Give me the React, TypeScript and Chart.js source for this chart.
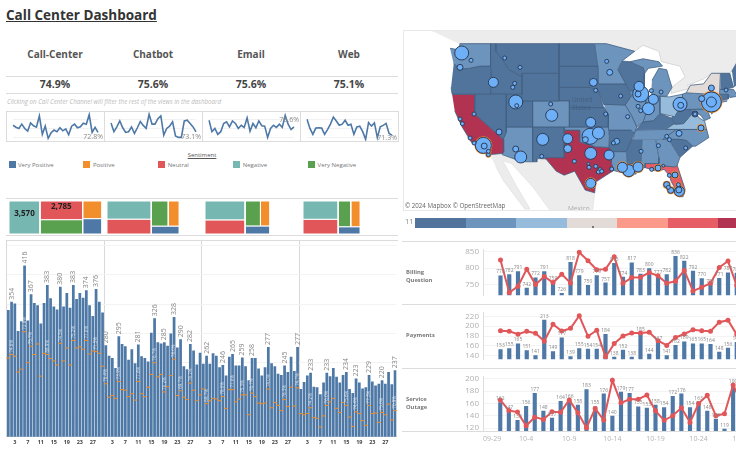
import React, { useEffect, useRef } from "react";
import { Chart, registerables } from "chart.js";
Chart.register(...registerables);

const FONT = '"Open Sans", sans-serif';
Chart.defaults.font.family = FONT;

// ---------- KPI ----------
const channels = ["Call-Center", "Chatbot", "Email", "Web"];
const kpis = ["74.9%", "75.6%", "75.6%", "75.1%"];
const sparkEnd = ["72.8%", "73.1%", "79.6%", "71.3%"];
const sparkCC = [76.8,75.7,75,77.4,75,73.5,78.1,76.5,75.7,82,71.7,76.3,69.5,72.6,74.1,73.2,75.4,73.7,74.8,71.5,76.3,77.4,75.4,75.9,77.9,77.4,82.7,72.8,75.6,72.8];
const sparkBot = [78.1,73.2,75.9,79.2,75.4,72.8,73.2,75.9,72.2,75.4,78.9,76.7,75,82.9,77.4,77.4,80.5,82,71.3,75,76.3,78.7,70.8,70,70,79.2,79.6,77.8,75.9,73.1];
const sparkEmail = [79.6,73.2,75,71.7,73.2,77.8,78.7,75.9,79.2,77.8,75,76.8,75.6,80.9,73.5,77.8,75.4,79.2,76.5,76.3,70,75,76.8,75.6,77.4,75.6,82.3,77.4,74.4,75.9];
const sparkWeb = [80.1,75,71.7,75.2,75.4,75.2,71.7,74.4,77.4,81.4,79.2,76.8,77.4,79.6,76.8,77.4,71.7,75.9,76.3,73.2,68.9,78.3,76.3,78.1,69.9,75.9,76.7,77.8,72.2,71.3];

// ---------- Sentiment ----------
const sentiments = ["Very Positive", "Positive", "Neutral", "Negative", "Very Negative"];
const sentimentColors = ["#4e79a7", "#f28e2b", "#e15759", "#76b7b2", "#59a14f"];
const tmVeryPositive = [1040, 780, 705, 565];
const tmPositive = [1190, 970, 830, 860];
const tmNeutral = [2785, 2300, 1980, 1810];
const tmNegative = [3570, 2800, 2640, 2240];
const tmVeryNegative = [2140, 1490, 1340, 1135];

// ---------- Daily bars (4 channels x 30 days) ----------
const days = Array.from({ length: 30 }, (_, i) => i + 1);
const totalsCC = [340,354,351,304,321,416,322,367,352,348,317,352,383,360,346,341,380,346,369,344,383,359,369,361,374,348,330,376,354,336];
const totalsBot = [280,262,258,241,295,282,278,255,273,249,281,261,258,252,301,326,285,283,285,279,300,328,276,290,244,239,282,271,247,267];
const totalsEmail = [248,262,248,266,262,242,246,228,260,265,245,245,259,244,220,258,258,240,228,242,277,249,244,231,229,245,234,260,236,277];
const totalsWeb = [205,217,228,233,209,208,196,216,233,227,241,226,216,229,234,205,198,223,216,206,208,229,218,211,214,220,214,234,213,237];
const satisfiedCC = [258,264,261,234,239,303,250,278,264,282,227,266,264,257,253,246,283,253,275,246,288,275,277,273,288,265,270,269,266,244];
const satisfiedBot = [214,191,194,189,218,204,203,192,197,186,218,197,192,208,230,250,226,230,200,209,228,256,194,202,191,187,215,203,185,195];
const satisfiedEmail = [205,180,185,189,188,185,192,172,204,204,183,188,195,195,161,198,192,181,180,181,205,173,182,177,168,187,175,208,176,207];
const satisfiedWeb = [163,161,163,173,156,155,140,159,177,183,189,172,165,182,177,157,141,166,163,151,143,177,163,164,148,165,161,179,152,168];
const labelledDaysCC = [2,6,8,13,17,21,25,28];
const labelledDaysBot = [1,5,11,16,19,22,24,27];
const labelledDaysEmail = [2,7,10,13,16,21,26,30];
const labelledDaysWeb = [4,9,15,18,22,26,30];

// ---------- Topic rows ----------
const dates = ["09-29","09-30","10-1","10-2","10-3","10-4","10-5","10-6","10-7","10-8","10-9","10-10","10-11","10-12","10-13","10-14","10-15","10-16","10-17","10-18","10-19","10-20","10-21","10-22","10-23","10-24","10-25","10-26","10-27","10-28","10-29","10-30","10-31"];
const billingBars = [null,null,778,782,791,742,772,791,759,726,818,779,750,779,757,815,774,817,783,800,777,782,836,822,792,770,751,771,787,786,762,760];
const billingLine = [null,null,824,727,746,797,751,775,757,782,756,847,822,795,797,834,755,772,773,787,777,755,761,793,732,743,755,802,821,748,732,730];
const paymentBars = [null,null,153,155,165,151,141,213,149,177,139,155,154,154,184,138,152,138,185,144,167,141,162,169,165,165,164,148,156,168,155,150];
const paymentLine = [null,null,190.6,189.6,183.7,189.6,185.7,169.5,203.8,190,195.5,221,179.3,191.6,137.6,164.6,180,186,186,187.6,170.5,161,177,184,192.5,190.6,189.6,208,212,183,187.6,179];
const outageBars = [null,null,162,147,133,156,177,148,137,164,166,158,183,155,176,140,179,177,155,153,158,154,172,176,154,163,148,135,119,190,136,140];
const outageLine = [null,null,165.8,148.5,146,123.7,137.8,134,146.6,145.7,165.8,144.8,120.5,151.8,133,197.6,161,166.7,167,173.7,148,132.6,140,153,129.3,160,173.3,140,143.4,190,161,147];

// ---------- Map ----------
const mapRamp = ["#50749c", "#6c94bc", "#97bbdb", "#e3dbd7", "#fb9a8a", "#e75d66", "#b23252"];
type Ring = number[][];
const canada: Ring = [[-123,49],[-95,49],[-89.6,48],[-88,48.8],[-85,48],[-84.5,46.6],[-81,46],[-80,44.5],[-81.7,43.5],[-82.5,43],[-82.7,42.1],[-79,42.9],[-79.6,43.3],[-76.5,44.2],[-75,45],[-71.5,45],[-70,46.7],[-69,47.4],[-67.8,47],[-60,47],[-60,60],[-128,60],[-128,50.6]];
const mexico: Ring = [[-117.1,32.5],[-114.7,32.7],[-111,31.3],[-108.2,31.3],[-106.5,31.8],[-104.5,29.7],[-103,29],[-101,29.7],[-99,26.4],[-97.2,25.9],[-97.7,22],[-90,20],[-105,20],[-105.5,22.5],[-109,27],[-113,31],[-114.7,31.5],[-112,27],[-109.5,23],[-110.5,23],[-114.5,28],[-116,30.5]];
const states: [string, number, Ring][] = [
  ["WA",1,[[-124.7,48.4],[-123,48.2],[-122.8,49],[-117,49],[-117,46],[-119,46],[-121,45.7],[-122.5,45.6],[-124,46.3]]],
  ["OR",0,[[-124,46.3],[-122.5,45.6],[-121,45.7],[-119,46],[-117,46],[-116.9,45],[-117,42],[-124.3,42],[-124.5,43]]],
  ["CA",6,[[-124.3,42],[-120,42],[-120,39],[-114.6,35],[-114.5,33],[-114.7,32.7],[-117.1,32.5],[-118.5,34],[-120.6,34.5],[-122.4,37],[-123.8,39.5]]],
  ["NV",0,[[-120,42],[-114,42],[-114,36.2],[-114.6,35],[-120,39]]],
  ["ID",0,[[-117,49],[-116,49],[-116,48],[-114.5,46.6],[-113.5,45.5],[-111,44.5],[-111,42],[-117,42],[-116.9,45],[-117,46]]],
  ["MT",0,[[-116,49],[-104,49],[-104,45],[-111,45],[-111,44.5],[-113.5,45.5],[-114.5,46.6],[-116,48]]],
  ["WY",0,[[-111,45],[-104,45],[-104,41],[-111,41]]],
  ["UT",0,[[-114,42],[-111,42],[-111,41],[-109,41],[-109,37],[-114,37]]],
  ["CO",1,[[-109,41],[-102,41],[-102,37],[-109,37]]],
  ["AZ",1,[[-114,37],[-109,37],[-109,31.3],[-111,31.3],[-114.8,32.5],[-114.5,33],[-114.6,35],[-114,36.2]]],
  ["NM",0,[[-109,37],[-103,37],[-103,32],[-106.6,32],[-106.5,31.8],[-108.2,31.8],[-108.2,31.3],[-109,31.3]]],
  ["ND",0,[[-104,49],[-97.2,49],[-96.6,46],[-104,46]]],
  ["SD",0,[[-104,46],[-96.6,46],[-96.5,42.5],[-98,43],[-104,43]]],
  ["NE",0,[[-104,43],[-98,43],[-96.5,42.5],[-95.5,40],[-102,40],[-102,41],[-104,41]]],
  ["KS",0,[[-102,40],[-95.3,40],[-94.6,39],[-94.6,37],[-102,37]]],
  ["OK",1,[[-103,37],[-94.6,37],[-94.4,35.4],[-94.5,33.7],[-97,33.8],[-100,34.6],[-100,36.5],[-103,36.5]]],
  ["TX",6,[[-103,36.5],[-100,36.5],[-100,34.6],[-97,33.8],[-94.5,33.7],[-94,33],[-94,31],[-93.6,29.8],[-95,29],[-97,27.8],[-97.2,25.9],[-99,26.4],[-101,29.7],[-103,29],[-104.5,29.7],[-106.5,31.8],[-106.6,32],[-103,32]]],
  ["MN",1,[[-97.2,49],[-95,49],[-89.6,48],[-92,46.7],[-92.8,45.5],[-91.3,43.5],[-96.5,43.5],[-96.6,46]]],
  ["IA",0,[[-96.5,43.5],[-91.3,43.5],[-90.2,41.8],[-91.4,40.4],[-95.5,40.5],[-96.5,42.5]]],
  ["MO",1,[[-95.5,40.5],[-91.4,40.4],[-90.2,38.8],[-89.2,37],[-89.7,36],[-90.3,36.5],[-94.6,36.5],[-94.6,39]]],
  ["AR",0,[[-94.6,36.5],[-90.3,36.5],[-89.7,36],[-91.2,33],[-94,33],[-94.5,33.7],[-94.4,35.4]]],
  ["LA",1,[[-94,33],[-91.2,33],[-91,31],[-89.7,31],[-89.3,29.2],[-91,29.2],[-93.6,29.8],[-94,31]]],
  ["WI",0,[[-92,46.7],[-90.5,46.6],[-88,45.8],[-87.7,45],[-87.8,42.5],[-90.6,42.5],[-91.3,43.5],[-92.8,45.5]]],
  ["IL",1,[[-90.6,42.5],[-87.8,42.5],[-87.5,41.7],[-87.5,39],[-88,37.8],[-89.2,37],[-90.2,38.8],[-91.4,40.4],[-90.2,41.8]]],
  ["IN",1,[[-87.5,41.7],[-84.8,41.7],[-84.8,39.1],[-86,38],[-88,37.8],[-87.5,39]]],
  ["OH",2,[[-84.8,41.7],[-83,41.6],[-80.5,42],[-80.5,40.6],[-82,38.6],[-84.8,39.1]]],
  ["MI",1,[[-86.5,41.7],[-83.5,41.7],[-82.5,43],[-82.9,44],[-83.5,45.5],[-85,45.7],[-86.3,44]]],
  ["MIU",1,[[-90.5,46.6],[-88,47],[-85,46.6],[-84.3,46],[-87,45.7],[-87.7,45],[-88,45.8]]],
  ["KY",0,[[-89.4,36.5],[-88,37.8],[-86,38],[-84.8,39.1],[-82.6,38.4],[-82,37.5],[-83.7,36.6]]],
  ["TN",1,[[-90,35],[-89.4,36.5],[-83.7,36.6],[-81.7,36.6],[-84.3,35]]],
  ["MS",0,[[-91.2,33],[-90.2,35],[-88.2,35],[-88.4,30.3],[-89.7,30.2],[-89.7,31],[-91,31]]],
  ["AL",1,[[-88.2,35],[-85.6,35],[-85,32],[-85,31],[-87.6,31],[-87.6,30.3],[-88.4,30.3]]],
  ["GA",1,[[-85.6,35],[-83.1,35],[-81,32],[-81.5,30.7],[-82,30.4],[-84.9,30.7],[-85,31],[-85,32]]],
  ["FL",5,[[-87.6,31],[-85,31],[-84.9,30.7],[-82,30.5],[-81.5,30.7],[-80,26.5],[-80.4,25.2],[-81.1,25.2],[-82.7,28],[-83,29],[-84,30],[-85.3,29.7],[-87.6,30.3]]],
  ["SC",0,[[-83.1,35],[-81,35],[-79.7,34.8],[-78.6,33.9],[-81,32]]],
  ["NC",1,[[-84.3,35],[-81.7,36.6],[-75.9,36.6],[-75.5,35.3],[-78,33.9],[-78.6,33.9],[-79.7,34.8],[-81,35],[-83.1,35]]],
  ["VA",2,[[-83.7,36.6],[-75.9,36.6],[-76.3,37.9],[-77.3,38.4],[-78.3,39.4],[-80.3,37.5],[-82,37.4]]],
  ["WV",0,[[-82.6,38.4],[-80.5,40.6],[-80.5,39.7],[-79.5,39.7],[-78.3,39.4],[-80.3,37.5],[-82,37.4]]],
  ["MD",1,[[-79.5,39.7],[-75.8,39.7],[-75.2,38.4],[-76.3,38],[-77,38.8],[-78.3,39.4]]],
  ["PA",1,[[-80.5,42],[-79.8,42.2],[-75.3,42],[-74.7,41.3],[-75.3,39.8],[-80.5,39.7]]],
  ["NY",3,[[-79.8,42.2],[-79,43.3],[-76.5,43.5],[-75,45],[-73.3,45],[-73.5,41.2],[-74,40.6],[-72,41],[-74,41],[-74.7,41.3],[-75.3,42]]],
  ["NJ",0,[[-75.3,39.8],[-74.7,41.3],[-74,41],[-74.2,39.6],[-75,39]]],
  ["VTNH",0,[[-73.3,45],[-71.5,45],[-70.8,43],[-72.5,42.7],[-73.3,42.7]]],
  ["MA",1,[[-73.4,42.7],[-70.8,42.7],[-70,41.7],[-71.5,41.5],[-71.8,42],[-73.5,42]]],
  ["CT",0,[[-73.5,42],[-71.8,42],[-71.8,41.3],[-73.6,41]]],
  ["ME",0,[[-71.1,45.3],[-70,46.7],[-69,47.4],[-67.8,47],[-67,45],[-70.7,43.1]]],
];
// longitude, mercator-latitude, call volume
const siteLon = [-122.48,-120.7,-122.8,-116.46,-112.4,-112.78,-112.2,-112.02,-114.3,-111.39,-105.37,-105.56,-107.08,-111.26,-112.21,-107.27,-118.36,-118.2,-117.41,-117.41,-120.89,-120.13,-122.79,-122.35,-120.13,-115.38,-102.32,-102.32,-97.95,-101.06,-98.4,-98.27,-97,-96.18,-96.5,-95.86,-97.95,-94.47,-98.08,-96.49,-97.95,-98.97,-93.64,-93.01,-97.44,-97,-94.91,-94.34,-92.25,-95.1,-90.92,-88.45,-88.95,-88.76,-86.04,-86.99,-88.95,-88.45,-86.42,-84.58,-80.97,-80.84,-75.01,-75.01,-76.85,-75.01,-72.22,-78.12,-78.12,-76.98,-81.16,-83.5,-83,-85.09,-79.89,-88.38,-90.73,-91.93,-88.95,-93.96,-86.36,-85.15,-84.14,-83,-81.92,-81.29,-83.5,-83.19,-82.74,-81.09,-81.2];
const siteMerc = [54.52,53.07,51.68,48.71,48.51,47.72,44.82,44.09,53.53,51.68,42.18,44.42,37.42,33.93,35.51,34.06,36.23,36.1,34.39,35.05,37.69,36.7,41.45,40.53,42.44,38.88,37.56,35.58,34.65,33.07,32.6,31.88,32.08,31.42,30.96,31.09,28.71,34.32,38.02,38.68,40.79,37.36,36.7,37.03,48.71,47.13,52.87,50.69,46,42.44,41.91,46.4,46.4,47.92,45.35,43.5,43.96,43.1,47.06,46.8,44.36,44.16,44.82,44.82,45.48,47.59,47.19,42.44,42.44,39.67,38.61,38.02,37.36,36.17,35.71,35.05,31.22,31.88,31.95,31.55,31.48,31.75,32.2,30.3,30.36,28.45,28.45,27.92,27.33,27.13,27.4];
const siteVolume = [49,4,9,25,4,4,49,4,4,4,36,4,36,36,9,4,64,9,4,4,4,4,4,4,4,9,25,16,36,4,2,4,4,4,4,4,25,25,64,36,25,9,4,9,16,4,4,9,4,4,4,64,9,25,25,36,4,4,4,4,49,9,100,25,9,9,4,9,4,9,9,4,4,4,4,4,36,25,25,4,4,9,2,4,9,4,9,4,9,25,9];
// sites whose ring shows an orange edge in the picture
const haloSites = [16,18,19,36,62,69,76,77,78,81,84,85,86,87,88,89];

const merc = (lat: number) => (Math.log(Math.tan(Math.PI / 4 + (lat * Math.PI) / 360)) * 180) / Math.PI;
const ring = (r: Ring) => r.map(([lon, lat]) => ({ x: lon, y: merc(lat) }));

const base = (extra: any = {}) => ({
  responsive: false,
  animation: false,
  events: [],
  layout: { autoPadding: false },
  plugins: { legend: { display: false }, tooltip: { enabled: false } },
  ...extra,
});

function ChartBox({ left, top, width, height, make }: any) {
  const ref = useRef<HTMLCanvasElement>(null);
  useEffect(() => {
    const c = new Chart(ref.current as any, make());
    return () => c.destroy();
  }, []);
  return <canvas ref={ref} width={width} height={height} style={{ position: "absolute", left, top, width, height, display: "block" }} />;
}

const sparkCfg = (values: number[], label: string, dy: number) => () => ({
  type: "line",
  data: { labels: days, datasets: [{ data: values, borderColor: "#4e79a7", borderWidth: 1.6, pointRadius: 0, tension: 0 }] },
  options: base({
    layout: { autoPadding: false, padding: { left: 6, right: 6 } },
    scales: {
      x: { display: false, offset: false },
      y: { min: 68, max: 84.2, ticks: { display: false, stepSize: 5, includeBounds: false }, border: { display: false }, grid: { color: "#f2f2f2", drawTicks: false }, afterFit: (s: any) => { s.width = 0; } },
    },
  }),
  plugins: [{
    id: "endLabel",
    afterDatasetsDraw(c: any) {
      const p = c.getDatasetMeta(0).data[29];
      const g = c.ctx;
      g.save();
      g.font = `7px ${FONT}`;
      g.fillStyle = "#888";
      g.textAlign = "right";
      g.textBaseline = "middle";
      g.fillText(label, c.width - 1, p.y + dy);
      g.restore();
    },
  }],
});

type Tree = number | { dir: "h" | "v"; kids: Tree[] };
const sumTree = (t: Tree, v: number[]): number => (typeof t === "number" ? v[t] : t.kids.reduce((a, k) => a + sumTree(k, v), 0));
function layoutTree(t: Tree, v: number[], x0: number, x1: number, y0: number, y1: number, out: any[]) {
  if (typeof t === "number") { out.push({ i: t, x0, x1, y0, y1 }); return; }
  const tot = sumTree(t, v);
  let cur = t.dir === "h" ? x0 : y0;
  for (const k of t.kids) {
    const f = sumTree(k, v) / tot;
    if (t.dir === "h") { const w = (x1 - x0) * f; layoutTree(k, v, cur, cur + w, y0, y1, out); cur += w; }
    else { const h = (y1 - y0) * f; layoutTree(k, v, x0, x1, cur, cur + h, out); cur += h; }
  }
}
const treeA: Tree = { dir: "h", kids: [3, { dir: "v", kids: [2, 4] }, { dir: "v", kids: [1, 0] }] };
const treeB: Tree = { dir: "h", kids: [{ dir: "v", kids: [3, 2] }, { dir: "v", kids: [{ dir: "h", kids: [4, 1] }, 0] }] };

const treemapCfg = (n: number) => () => {
  const v = [tmVeryPositive[n], tmPositive[n], tmNeutral[n], tmNegative[n], tmVeryNegative[n]];
  const cells: any[] = [];
  const total = v.reduce((a, b) => a + b, 0);
  layoutTree(n === 0 ? treeA : treeB, v, 0, total, 0, 1, cells);
  return {
    type: "scatter",
    data: {
      datasets: cells.map((c) => ({
        data: [{ x: c.x0, y: c.y0 }, { x: c.x1, y: c.y0 }, { x: c.x1, y: c.y1 }, { x: c.x0, y: c.y1 }, { x: c.x0, y: c.y0 }],
        showLine: true, fill: "shape", pointRadius: 0, tension: 0,
        backgroundColor: sentimentColors[c.i], borderColor: "#ffffff", borderWidth: 1,
      })),
    },
    options: base({
      scales: {
        x: { display: false, min: 0, max: 11532 },
        y: { display: false, min: 0, max: 1, reverse: true },
      },
    }),
    plugins: n === 0 ? [{
      id: "cellText",
      afterDatasetsDraw(c: any) {
        const g = c.ctx;
        g.save();
        g.font = `bold 8px ${FONT}`;
        g.fillStyle = "#222";
        g.textAlign = "center";
        g.textBaseline = "middle";
        const sx = c.scales.x, sy = c.scales.y;
        for (const cell of cells) {
          if (cell.i === 3) g.fillText(v[3].toLocaleString("en-US"), sx.getPixelForValue((cell.x0 + cell.x1) / 2), sy.getPixelForValue(0.4));
          if (cell.i === 2) g.fillText(v[2].toLocaleString("en-US"), sx.getPixelForValue((cell.x0 + cell.x1) / 2), sy.getPixelForValue(0.17));
        }
        g.restore();
      },
    }] : [],
  };
};

const dailyCfg = () => {
  const labels = [...days, ...days, ...days, ...days];
  const totals = [...totalsCC, ...totalsBot, ...totalsEmail, ...totalsWeb];
  const sats = [...satisfiedCC, ...satisfiedBot, ...satisfiedEmail, ...satisfiedWeb];
  const flagged = [labelledDaysCC, labelledDaysBot, labelledDaysEmail, labelledDaysWeb].flatMap((l, p) => l.map((d) => p * 30 + d - 1));
  return {
    type: "bar",
    data: {
      labels,
      datasets: [
        { type: "line", data: sats, showLine: false, pointStyle: "line", pointRadius: 2, pointBorderColor: "#f28e2b", pointBorderWidth: 1, borderColor: "#f28e2b" },
        { type: "bar", data: totals, backgroundColor: "#4e79a7", barPercentage: 0.84, categoryPercentage: 1 },
      ],
    },
    options: base({
      layout: { autoPadding: false, padding: { left: 6.7, right: 3.3 } },
      scales: {
        x: {
          ticks: { autoSkip: false, maxRotation: 0, minRotation: 0, padding: 2, color: "#444", font: { size: 5.5, weight: "bold" }, callback: (_: any, i: number) => (labels[i] % 4 === 3 ? String(labels[i]) : "") },
          grid: { offset: true, drawTicks: false, color: (c: any) => (c.index % 30 === 0 ? "#d9d9d9" : "transparent") },
          border: { display: true, color: "#d9d9d9" },
          afterFit: (s: any) => { s.height = 17.3; },
        },
        y: {
          min: 123.5, max: 458,
          ticks: { display: false, stepSize: 50, includeBounds: false },
          grid: { color: "#f3f3f3", drawTicks: false },
          border: { display: false },
          afterFit: (s: any) => { s.width = 0; },
        },
      },
    }),
    plugins: [{
      id: "verticalLabels",
      afterDatasetsDraw(c: any) {
        const g = c.ctx;
        const bars = c.getDatasetMeta(1).data;
        const dash = c.getDatasetMeta(0).data;
        g.save();
        g.textBaseline = "middle";
        for (const i of flagged) {
          g.save();
          g.translate(bars[i].x, bars[i].y - 2);
          g.rotate(-Math.PI / 2);
          g.font = `7px ${FONT}`;
          g.fillStyle = "#888";
          g.textAlign = "left";
          g.fillText(String(totals[i]), 0, 0);
          g.restore();
          g.save();
          g.translate(bars[i].x, dash[i].y - 2);
          g.rotate(-Math.PI / 2);
          g.font = `4.5px ${FONT}`;
          g.fillStyle = "rgba(255,255,255,0.75)";
          g.textAlign = "left";
          g.fillText(((sats[i] / totals[i]) * 100).toFixed(1) + "%", 0, 0);
          g.restore();
        }
        g.restore();
      },
    }],
  };
};

const topicCfg = (bars: any[], line: any[], min: number, max: number, step: number, last: boolean, padTop: number) => () => ({
  type: "bar",
  data: {
    labels: dates,
    datasets: [
      { type: "line", data: line, borderColor: "#e15759", backgroundColor: "#e15759", borderWidth: 2, pointRadius: 1.5, tension: 0, spanGaps: false },
      { type: "bar", data: bars, backgroundColor: "#4e79a7", barPercentage: 0.48, categoryPercentage: 1 },
    ],
  },
  options: base({
    layout: { autoPadding: false, padding: { top: padTop } },
    scales: {
      x: {
        display: true,
        offset: false,
        ticks: last
          ? { display: true, autoSkip: false, maxRotation: 0, minRotation: 0, align: "inner", padding: 4, color: "#b5b5b5", font: { size: 7 }, callback: (_: any, i: number) => (i % 5 === 0 ? dates[i] : "") }
          : { display: false },
        grid: { display: false, drawTicks: false },
        border: { display: false },
        afterFit: (s: any) => { s.height = last ? 23 : 0; },
      },
      y: {
        min, max,
        ticks: { stepSize: step, includeBounds: false, color: "#b0b0b0", font: { size: 8 }, padding: 4 },
        grid: { color: "#f3f3f3", drawTicks: false },
        border: { display: true, color: "#dcdcdc" },
        afterFit: (s: any) => { s.width = 80; },
      },
    },
  }),
  plugins: [{
    id: "barValues",
    afterDatasetsDraw(c: any) {
      const g = c.ctx;
      const pts = c.getDatasetMeta(1).data;
      g.save();
      g.font = `5px ${FONT}`;
      g.fillStyle = "#888";
      g.textAlign = "center";
      g.textBaseline = "bottom";
      bars.forEach((v, i) => { if (v != null) g.fillText(String(v), pts[i].x, pts[i].y - 1); });
      g.restore();
    },
  }],
});

const mapCfg = () => {
  const bubbles = siteLon.map((x, i) => ({ x, y: siteMerc[i], r: Math.sqrt(siteVolume[i]) })).sort((a, b) => b.r - a.r);
  const halos = haloSites.map((i) => ({ x: siteLon[i], y: siteMerc[i], r: Math.sqrt(siteVolume[i]) + 1 }));
  const shape = (r: Ring, color: string, line: string) => ({
    type: "scatter", data: ring(r), showLine: true, fill: "shape", pointRadius: 0, tension: 0, backgroundColor: color, borderColor: line, borderWidth: 0.8,
  });
  return {
    type: "scatter",
    data: {
      datasets: [
        { type: "bubble", data: bubbles, backgroundColor: "#6db0f7", borderColor: "#2c3e5a", borderWidth: 1 },
        { type: "bubble", data: halos, backgroundColor: "#f28e2b", borderColor: "#f28e2b", borderWidth: 0 },
        ...states.map(([, c, r]) => shape(r, mapRamp[c], "#425f82")),
        shape(mexico, "#ececec", "#e2e2e2"),
        shape(canada, "#ececec", "#d0d0d0"),
      ],
    },
    options: base({
      scales: {
        x: { display: false, min: -133.64, max: -70.33 },
        y: { display: false, min: 23.43, max: 58.88 },
      },
    }),
  };
};

const T = ({ x, y, w, align = "left", size, color = "#555", weight = 400, italic, under, children }: any) => (
  <div style={{ position: "absolute", left: x, top: y, width: w, textAlign: align, fontSize: size, lineHeight: 1, color, fontWeight: weight, fontStyle: italic ? "italic" : "normal", textDecoration: under ? "underline" : "none", whiteSpace: "nowrap" }}>{children}</div>
);
const Rule = ({ x, y, w, h = 1, c = "#dcdcdc" }: any) => <div style={{ position: "absolute", left: x, top: y, width: w, height: h, background: c }} />;

export default function App() {
  const colX = [6, 104, 202, 300];
  const spark = [sparkCC, sparkBot, sparkEmail, sparkWeb];
  const sparkDy = [5, 5, -7, 3];
  const tmX = [9, 106.7, 205, 302.7];
  return (
    <div style={{ position: "fixed", left: 0, top: 0, width: 736, height: 454, overflow: "hidden", background: "#fff", fontFamily: FONT }}>
      <T x={6} y={9} size={13.5} weight={700} color="#333" under>Call Center Dashboard</T>
      {channels.map((c, i) => <T key={c} x={colX[i]} y={49} w={98} align="center" size={10} weight={700} color="#555">{c}</T>)}
      <Rule x={6} y={76} w={392} />
      {kpis.map((k, i) => <T key={i} x={colX[i]} y={79} w={98} align="center" size={10.5} weight={700} color="#444">{k}</T>)}
      <Rule x={6} y={93} w={392} />
      <T x={7} y={99} size={6.2} italic color="#bbb">Clicking on Call Center Channel will filter the rest of the views in the dashboard</T>

      <Rule x={6} y={111} w={392} /><Rule x={6} y={141} w={392} />
      {[6, 104, 202, 300, 398].map((x) => <Rule key={x} x={x} y={111} w={1} h={31} />)}
      {spark.map((s, i) => <ChartBox key={i} left={colX[i] + 1} top={112} width={97} height={29} make={sparkCfg(s, sparkEnd[i], sparkDy[i])} />)}

      <T x={102} y={152} w={200} align="center" size={6} color="#555" under>Sentiment</T>
      {sentiments.map((s, i) => (
        <React.Fragment key={s}>
          <div style={{ position: "absolute", left: 8.5 + i * 74.8, top: 161, width: 7, height: 7, background: sentimentColors[i] }} />
          <T x={18 + i * 74.9} y={162} size={6} color="#777">{s}</T>
        </React.Fragment>
      ))}

      <Rule x={6} y={198} w={392} /><Rule x={6} y={235} w={392} />
      {tmX.map((x, i) => <ChartBox key={i} left={x} top={200.5} width={100} height={33} make={treemapCfg(i)} />)}

      <ChartBox left={0} top={241} width={400} height={213} make={dailyCfg} />
      <Rule x={6} y={240} w={392} />

      <ChartBox left={403} top={31} width={333} height={179} make={mapCfg} />
      <T x={405} y={203} size={6.2} color="#666">© 2024 Mapbox © OpenStreetMap</T>
      <T x={568} y={206} size={6.5} color="#aaa">Mexico</T>
      <T x={572} y={97} size={6.5} color="#44607f">United</T>
      <T x={572} y={105} size={6.5} color="#44607f">States</T>
      <Rule x={403} y={30} w={333} c="#e8e8e8" />
      <Rule x={403} y={30} w={1} h={181} c="#e8e8e8" />
      <Rule x={403} y={210} w={333} c="#e8e8e8" />
      <T x={405} y={218} size={7.5} color="#888">11</T>
      {mapRamp.map((c, i) => <div key={c} style={{ position: "absolute", left: 415 + i * 50.5, top: 218, width: 50.5, height: 10, background: c }} />)}
      <Rule x={592} y={226} w={2} h={2} c="#777" />

      <Rule x={402} y={241} w={334} />
      <ChartBox left={403} top={241} width={360} height={63} make={topicCfg(billingBars, billingLine, 719.5, 854.5, 50, false, 1)} />
      <Rule x={402} y={304} w={334} />
      <ChartBox left={403} top={304} width={360} height={64} make={topicCfg(paymentBars, paymentLine, 133, 227, 20, false, 0)} />
      <Rule x={402} y={368} w={334} />
      <ChartBox left={403} top={368} width={360} height={86} make={topicCfg(outageBars, outageLine, 115.3, 203.3, 20, true, 0)} />
      <Rule x={402} y={431} w={334} />
      <T x={406} y={270} size={5.8} weight={700} color="#777">Billing</T>
      <T x={406} y={278} size={5.8} weight={700} color="#777">Question</T>
      <T x={406} y={333} size={5.8} weight={700} color="#777">Payments</T>
      <T x={406} y={397} size={5.8} weight={700} color="#777">Service</T>
      <T x={406} y={405} size={5.8} weight={700} color="#777">Outage</T>
    </div>
  );
}
